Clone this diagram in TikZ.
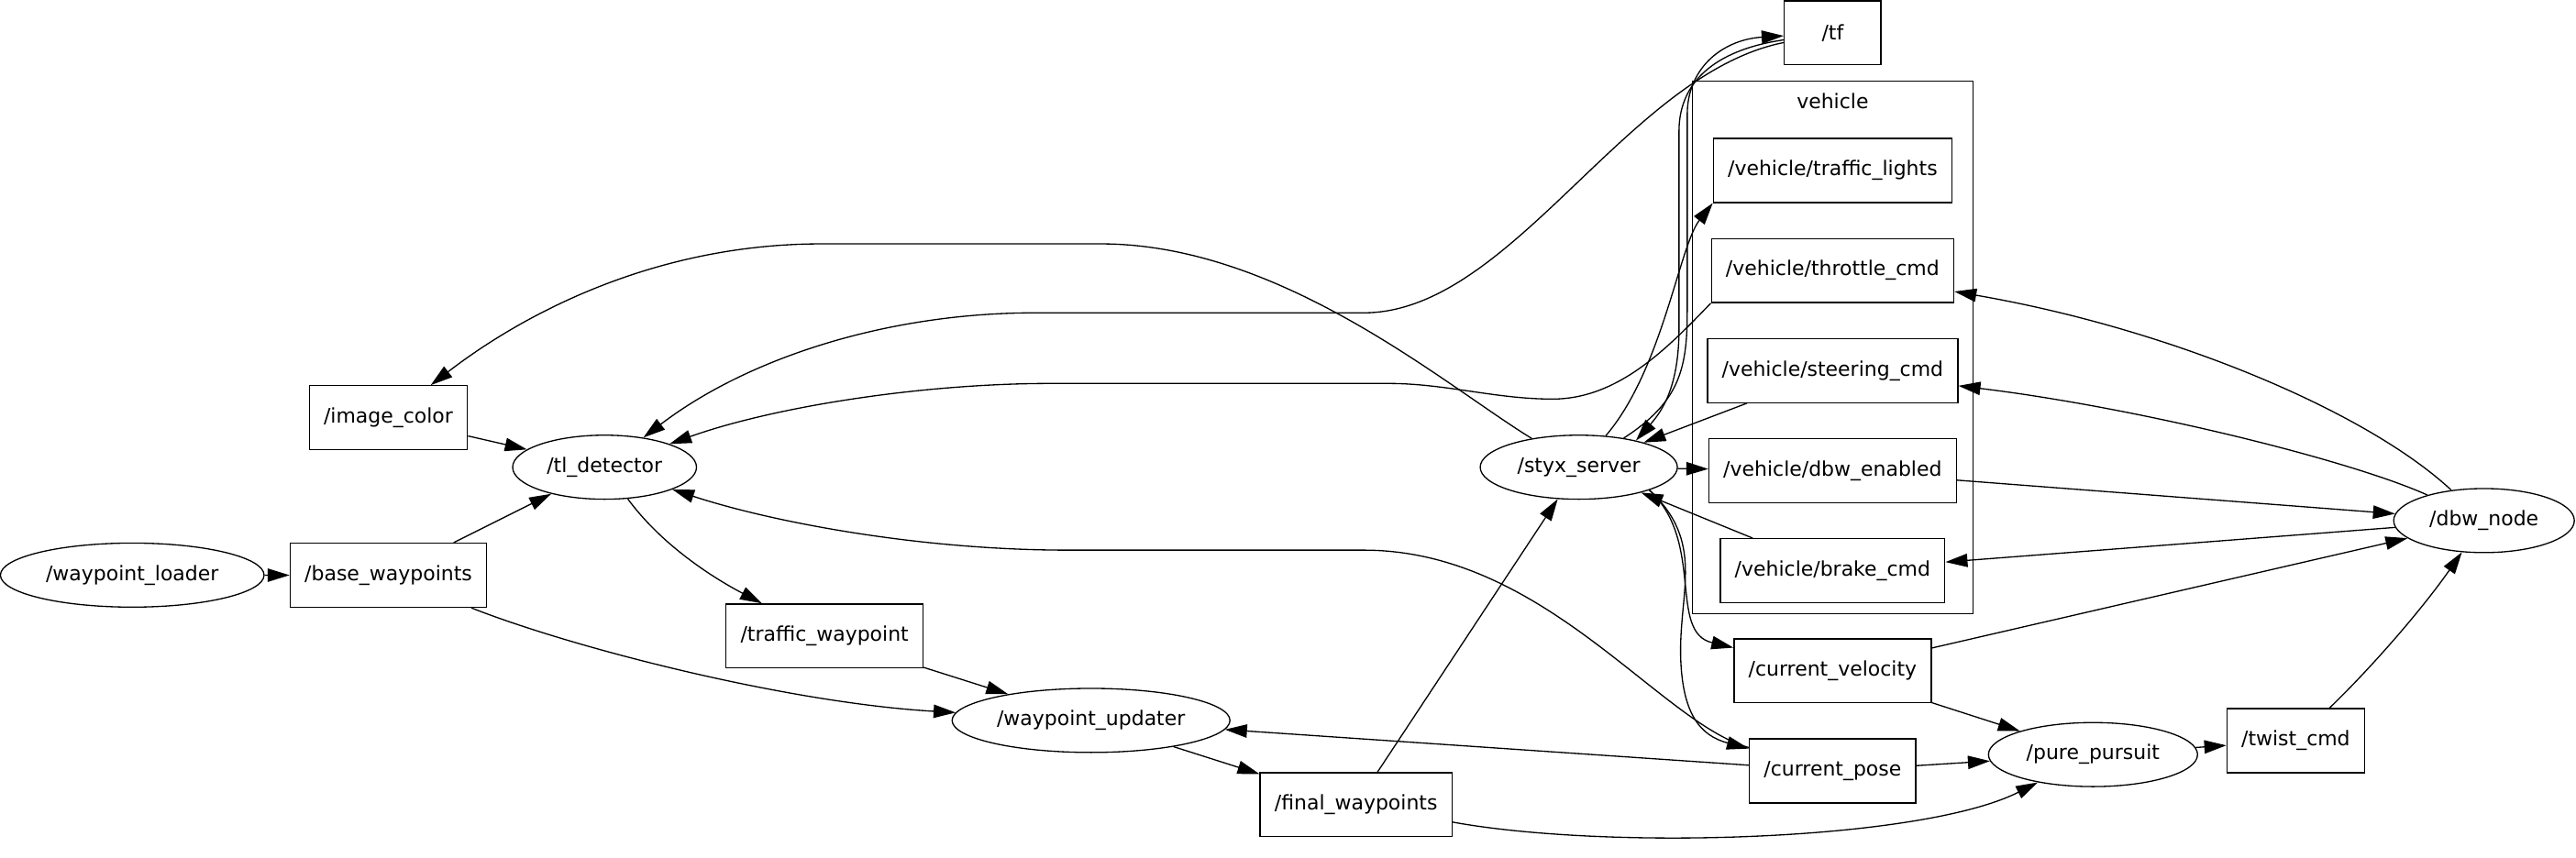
\documentclass[tikz,border=0pt]{standalone}
\usepackage{fontspec}
\setmainfont{DejaVu Sans}
\usepackage{tikz}
\usetikzlibrary{arrows.meta, positioning, shapes.geometric}

\tikzset{
  % Topic boxes
  topic/.style={
    rectangle, draw=black, line width=0.75pt,
    minimum width=21.1mm, minimum height=13.97mm, inner xsep=3.15mm,
    font=\fontsize{12.5}{15}\selectfont,
  },
  % ROS nodes
  rosnode/.style={
    ellipse, draw=black, line width=0.75pt,
    minimum height=13.97mm, inner sep=0pt,
    font=\fontsize{12.5}{15}\selectfont,
  },
  % Namespace frame
  cluster/.style={draw=black, line width=0.6pt},
  clustertitle/.style={font=\fontsize{12.5}{15}\selectfont},
  % Arrows
  conn/.style={-{Triangle[length=4.8mm, width=2.9mm]}, line width=0.75pt, black},
}

\begin{document}
\begin{tikzpicture}[x=0.35829mm, y=-0.35829mm, node distance=7.6mm]
  \useasboundingbox (0,0) rectangle (1568,522);

  % vehicle namespace
  \draw[cluster] (1030,49.3) rectangle (1201,373.9);
  \node[clustertitle] (vlabel) at (1115.5,61.6) {vehicle};

  % Left part of the graph
  \node[rosnode, minimum width=57.5mm] (wpl) at (80.5,350.2) {/waypoint\_loader};
  \node[topic] (basewp) at (236.4,350.3) {/base\_waypoints};
  \node[topic] (imgcol) at (236.4,254.4) {/image\_color};
  \node[rosnode, minimum width=40.1mm] (tld) at (368,284.5) {/tl\_detector};
  \node[topic] (trafwp) at (501.9,387.3) {/traffic\_waypoint};
  \node[rosnode, minimum width=60.6mm] (wpu) at (664.1,438.7) {/waypoint\_updater};
  \node[topic] (finalwp) at (825.4,490) {/final\_waypoints};
  \node[rosnode, minimum width=43mm] (styx) at (961,284.5) {/styx\_server};

  % Topic column
  \node[topic] (tf) at (1115.5,20) {/tf};
  \node[topic] (vtl) at (1115.5,103.8) {/vehicle/traffic\_lights};
  \node[topic, below=of vtl] (vthr) {/vehicle/throttle\_cmd};
  \node[topic, below=of vthr] (vsteer) {/vehicle/steering\_cmd};
  \node[topic, below=of vsteer] (vdbw) {/vehicle/dbw\_enabled};
  \node[topic, below=of vdbw] (vbrake) {/vehicle/brake\_cmd};
  \node[topic, below=of vbrake] (cvel) {/current\_velocity};
  \node[topic, below=of cvel] (cpose) {/current\_pose};

  % Right part of the graph
  \node[rosnode, minimum width=45.6mm] (pp) at (1274,459.5) {/pure\_pursuit};
  \node[topic] (twist) at (1397.4,451) {/twist\_cmd};
  \node[rosnode, minimum width=39.4mm] (dbw) at (1512,317) {/dbw\_node};

  % Waypoint chain
  \draw[conn] (wpl) -- (basewp);
  \draw[conn] (basewp) -- (tld);
  \draw[conn] (basewp) .. controls (350,395) and (480,428) .. (wpu);
  \draw[conn] (imgcol) -- (tld);
  \draw[conn] (tld) .. controls (405,335) and (440,355) .. (trafwp);
  \draw[conn] (trafwp) -- (wpu);
  \draw[conn] (wpu) -- (finalwp);
  \draw[conn] (finalwp) -- (styx);
  \draw[conn] (finalwp) .. controls (980,518) and (1170,512) .. (pp);

  % Pose and velocity
  \draw[conn] (cpose) -- (wpu);
  \draw[conn] (cpose) -- (pp);
  \draw[conn] (cpose) .. controls (1010,440) and (940,335) .. (830,335)
    -- (650,335) .. controls (560,335) and (470,318) .. (tld);
  \draw[conn] (cvel) -- (pp);
  \draw[conn] (cvel) -- (dbw);
  \draw[conn] (pp) -- (twist);
  \draw[conn] (twist) .. controls (1445,405) and (1475,370) .. (dbw);

  % dbw_node and the vehicle topics
  \draw[conn] (dbw) .. controls (1440,250) and (1320,200) .. (vthr);
  \draw[conn] (dbw) .. controls (1430,280) and (1300,248) .. (vsteer);
  \draw[conn] (vdbw) -- (dbw);
  \draw[conn] (dbw) -- (vbrake);

  % styx_server
  \draw[conn] (styx) -- (vdbw);
  \draw[conn] (vbrake) -- (styx);
  \draw[conn] (vsteer) -- (styx);
  \draw[conn] (styx) .. controls (1012,225) and (1022,150) .. (vtl.south west);
  \draw[conn] (styx) .. controls (1022,245) and (1027,225) .. (1027,190)
    -- (1027,70) .. controls (1027,40) and (1050,24) .. (tf);
  \draw[conn] (tf) .. controls (1060,28) and (1022,40) .. (1022,80)
    -- (1022,200) .. controls (1022,235) and (1012,250) .. (styx.25);
  \draw[conn] (tf) .. controls (990,45) and (920,190.5) .. (830,190.5)
    -- (630,190.5) .. controls (540,190.5) and (455,218) .. (tld);
  \draw[conn] (styx) .. controls (880,235) and (780,148.5) .. (670,148.5)
    -- (500,148.5) .. controls (400,148.5) and (320,190) .. (imgcol);
  \draw[conn] (vthr.south west) .. controls (1015,212) and (985,243) .. (945,243)
    .. controls (910,243) and (880,233.5) .. (845,233.5)
    -- (640,233.5) .. controls (560,233.5) and (470,248) .. (tld);
  \draw[conn] (styx.-18) .. controls (1038,330) and (1015,385) .. (cvel);
  \draw[conn] (styx.-18) .. controls (1038,330) and (1022,360) .. (1023,400)
    .. controls (1024,435) and (1035,448) .. (cpose);
\end{tikzpicture}
\end{document}
